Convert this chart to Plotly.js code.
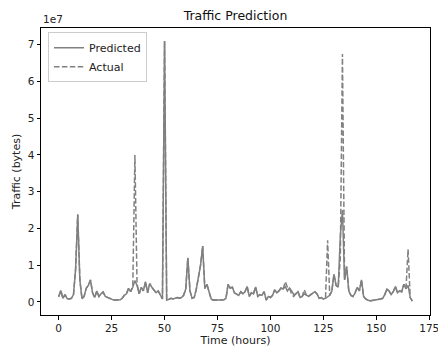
<!DOCTYPE html>
<html>
<head>
<meta charset="utf-8">
<script src="https://cdn.plot.ly/plotly-3.0.1.min.js"></script>
<style>html,body{margin:0;padding:0;background:#fff;}#chart{width:438px;height:349px;}</style>
</head>
<body>
<div id="chart"></div>
<script>
// Traffic in units of 1e7 bytes, one value per hour (0..167)
var hours = [];
for (var i = 0; i < 168; i++) hours.push(i);

var predicted = [
 0.14,0.31,0.10,0.20,0.09,0.08,0.10,0.20,0.90,2.38,
 0.60,0.09,0.15,0.37,0.45,0.60,0.25,0.12,0.30,0.15,
 0.22,0.27,0.15,0.12,0.09,0.06,0.05,0.05,0.05,0.06,
 0.10,0.18,0.22,0.37,0.28,0.40,0.58,0.45,0.22,0.40,
 0.30,0.55,0.25,0.50,0.40,0.33,0.25,0.30,0.20,0.08,
 7.10,0.05,0.07,0.10,0.08,0.10,0.12,0.10,0.12,0.18,
 0.35,1.20,0.30,0.10,0.12,0.35,0.70,1.00,1.52,0.37,
 0.48,0.25,0.08,0.05,0.05,0.05,0.05,0.05,0.06,0.10,
 0.48,0.38,0.40,0.25,0.22,0.18,0.28,0.22,0.28,0.42,
 0.15,0.25,0.22,0.41,0.15,0.20,0.18,0.28,0.05,0.15,
 0.12,0.18,0.33,0.25,0.30,0.38,0.35,0.42,0.30,0.38,
 0.30,0.20,0.22,0.28,0.12,0.15,0.22,0.18,0.15,0.20,
 0.25,0.28,0.22,0.10,0.12,0.08,0.10,0.15,0.18,0.30,
 0.75,0.45,0.40,1.80,2.50,0.60,0.96,0.30,0.18,0.15,
 0.25,0.40,0.30,0.60,0.15,0.08,0.05,0.03,0.04,0.05,
 0.05,0.07,0.08,0.10,0.20,0.35,0.30,0.20,0.28,0.42,
 0.25,0.30,0.28,0.48,0.36,0.45,0.12,0.02
];

var actual = [
 0.14,0.31,0.10,0.20,0.09,0.08,0.10,0.20,0.90,2.38,
 0.60,0.09,0.15,0.37,0.45,0.60,0.25,0.12,0.30,0.15,
 0.22,0.27,0.15,0.12,0.09,0.06,0.05,0.05,0.05,0.06,
 0.10,0.18,0.22,0.37,0.28,0.45,4.00,0.50,0.22,0.40,
 0.30,0.55,0.25,0.50,0.40,0.33,0.25,0.30,0.20,0.08,
 7.10,0.05,0.07,0.10,0.08,0.10,0.12,0.10,0.12,0.18,
 0.35,1.20,0.30,0.10,0.12,0.35,0.70,1.00,1.52,0.37,
 0.48,0.25,0.08,0.05,0.05,0.05,0.05,0.05,0.06,0.10,
 0.48,0.38,0.40,0.25,0.22,0.18,0.28,0.22,0.28,0.42,
 0.15,0.25,0.22,0.41,0.15,0.20,0.18,0.28,0.05,0.15,
 0.12,0.18,0.33,0.25,0.30,0.38,0.35,0.55,0.40,0.38,
 0.20,0.15,0.22,0.28,0.12,0.15,0.33,0.18,0.15,0.20,
 0.25,0.28,0.22,0.10,0.12,0.08,0.10,1.68,0.18,0.30,
 0.75,0.45,0.40,1.20,6.75,0.60,0.96,0.30,0.18,0.15,
 0.25,0.40,0.30,0.60,0.15,0.08,0.05,0.03,0.04,0.05,
 0.05,0.07,0.08,0.10,0.20,0.35,0.30,0.20,0.28,0.42,
 0.25,0.30,0.28,0.48,0.36,1.43,0.12,0.02
];

var xTicks = [0,25,50,75,100,125,150,175];
var yTicks = [0,1,2,3,4,5,6,7];

var font = 'DejaVu Sans, sans-serif';

var traces = [
 {x: hours, y: predicted, type: 'scatter', mode: 'lines', name: 'Predicted',
  line: {color: '#808080', width: 1.5}},
 {x: hours, y: actual, type: 'scatter', mode: 'lines', name: 'Actual',
  line: {color: '#808080', width: 1.5, dash: '5.5px,2.4px'}}
];

var axisCommon = {
 showgrid: false, zeroline: false, showline: true, mirror: true,
 linecolor: '#000', linewidth: 1, ticks: 'outside', ticklen: 3.5,
 tickcolor: '#000', tickwidth: 1, ticklabeloverflow: 'allow',
 tickfont: {family: font, size: 10.5, color: '#222'}
};

var layout = {
 width: 438, height: 349,
 margin: {l: 41, r: 8, t: 28, b: 34},
 paper_bgcolor: '#fff', plot_bgcolor: '#fff',
 font: {family: font, color: '#000'},
 title: {text: 'Traffic Prediction', font: {family: font, size: 12.5, color: '#111'},
  x: 0.5, xref: 'paper', y: 0.955, yanchor: 'middle'},
 xaxis: Object.assign({}, axisCommon, {
  range: [-8.35, 175.35], tickmode: 'array', tickvals: xTicks,
  title: {text: 'Time (hours)', font: {family: font, size: 11, color: '#222'}, standoff: 3}
 }),
 yaxis: Object.assign({}, axisCommon, {
  range: [-0.355, 7.455], tickmode: 'array', tickvals: yTicks,
  title: {text: 'Traffic (bytes)', font: {family: font, size: 11, color: '#222'}, standoff: 4}
 }),
 legend: {x: 0.018, y: 0.985, xanchor: 'left', yanchor: 'top',
  bgcolor: 'rgba(255,255,255,0.8)', bordercolor: '#cccccc', borderwidth: 1,
  font: {family: font, size: 11, color: '#222'}, tracegroupgap: 0, itemwidth: 30},
 annotations: [{text: '1e7', xref: 'paper', yref: 'paper', x: 0, y: 1,
  xanchor: 'left', yanchor: 'bottom', yshift: 1, showarrow: false,
  font: {family: font, size: 10.5, color: '#222'}}],
 showlegend: true
};

Plotly.newPlot('chart', traces, layout, {displayModeBar: false, staticPlot: true});
</script>
</body>
</html>
